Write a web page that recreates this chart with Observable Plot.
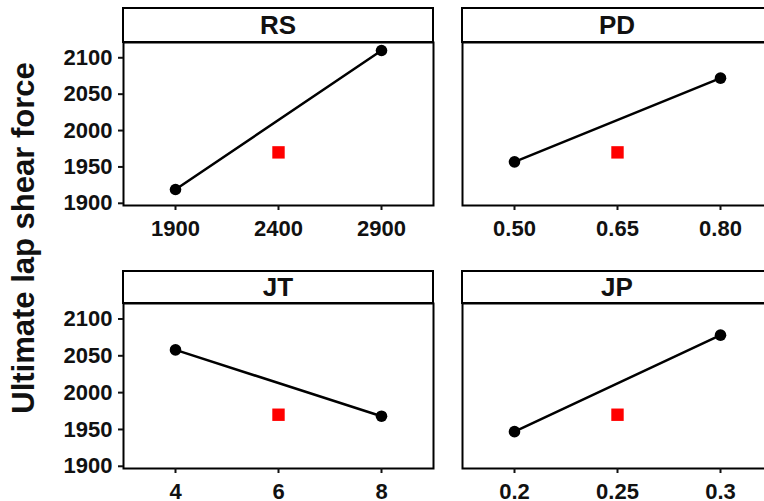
<!DOCTYPE html>
<html>
<head>
<meta charset="utf-8">
<script src="https://cdn.jsdelivr.net/npm/d3@7"></script>
<script src="https://cdn.jsdelivr.net/npm/@observablehq/plot@0.6"></script>
<style>
  html, body { margin: 0; padding: 0; background: #fff; }
  #chart { position: relative; width: 764px; height: 501px; overflow: hidden; font-family: Arial, "Liberation Sans", sans-serif; }
  .strip { position: absolute; box-sizing: border-box; border: 2px solid #000; background: #fff;
           font-weight: bold; font-size: 26px; text-align: center; color: #111; }
  .panel { position: absolute; }
  .panel svg { overflow: visible; max-width: none !important; }
  #ytitle { position: absolute; font-weight: bold; font-size: 31px; white-space: nowrap; color: #111;
            transform: translate(-50%, -50%) rotate(-90deg); }
</style>
</head>
<body>
<div id="chart"></div>
<script>
const factors = ["RS", "PD", "JT", "JP"];
const levelLabels = [
  ["1900", "2400", "2900"],
  ["0.50", "0.65", "0.80"],
  ["4", "6", "8"],
  ["0.2", "0.25", "0.3"]
];
const lowMeans = [1919, 1957, 2058, 1947];
const highMeans = [2110, 2072, 1968, 2078];
const centerMeans = [1970, 1970, 1970, 1970];
const yTicks = [1900, 1950, 2000, 2050, 2100];
const yTitle = "Ultimate lap shear force";

const chart = document.getElementById("chart");
const colX = [123, 462];
const rows = [{boxTop: 7, stripBottom: 42, plotBottom: 205},
              {boxTop: 270, stripBottom: 303, plotBottom: 468}];
const panelW = 310;
const mL = 123, mT = 10, mB = 40, mR = 10;

factors.forEach((f, i) => {
  const col = i % 2, row = Math.floor(i / 2);
  const x0 = colX[col], r = rows[row];
  const plotH = r.plotBottom - r.stripBottom;
  const labels = levelLabels[i];
  const pts = [
    {level: labels[0], value: lowMeans[i]},
    {level: labels[2], value: highMeans[i]}
  ];
  const center = [{level: labels[1], value: centerMeans[i]}];

  const strip = document.createElement("div");
  strip.className = "strip";
  strip.style.left = (x0 - 1) + "px";
  strip.style.top = r.boxTop + "px";
  strip.style.width = (panelW + 2) + "px";
  strip.style.height = (r.stripBottom - r.boxTop + 1) + "px";
  strip.style.lineHeight = (r.stripBottom - r.boxTop - 3) + "px";
  strip.textContent = f;
  chart.appendChild(strip);

  const W = mL + panelW + mR;
  const plot = Plot.plot({
    width: W,
    height: mT + plotH + mB,
    marginLeft: mL, marginRight: mR, marginTop: mT, marginBottom: mB,
    style: {fontFamily: 'Arial, "Liberation Sans", sans-serif', fontSize: "22px", fontWeight: "bold", color: "#111", background: "transparent", maxWidth: "none"},
    x: {type: "point", domain: labels, padding: 0.5},
    y: {domain: [1897, 2121]},
    marks: [
      Plot.frame({stroke: "#000", strokeWidth: 2}),
      col === 0
        ? Plot.axisY({ticks: yTicks, tickFormat: d => String(d), tickSize: 5, tickPadding: 6, strokeWidth: 2, label: null})
        : Plot.axisY({ticks: [], label: null}),
      Plot.axisX({tickSize: 5, tickPadding: 10, strokeWidth: 2, label: null}),
      Plot.line(pts, {x: "level", y: "value", stroke: "#000", strokeWidth: 2.5}),
      Plot.dot(pts, {x: "level", y: "value", r: 5.8, fill: "#000", stroke: null}),
      Plot.dot(center, {x: "level", y: "value", symbol: "square", r: 7, fill: "#ff0000", stroke: null})
    ]
  });
  const wrap = document.createElement("div");
  wrap.className = "panel";
  wrap.style.left = (x0 - mL) + "px";
  wrap.style.top = (r.stripBottom - mT) + "px";
  wrap.style.width = W + "px";
  wrap.appendChild(plot);
  chart.appendChild(wrap);
});

const yt = document.createElement("div");
yt.id = "ytitle";
yt.style.left = "24px";
yt.style.top = "238px";
yt.textContent = yTitle;
chart.appendChild(yt);
</script>
</body>
</html>
